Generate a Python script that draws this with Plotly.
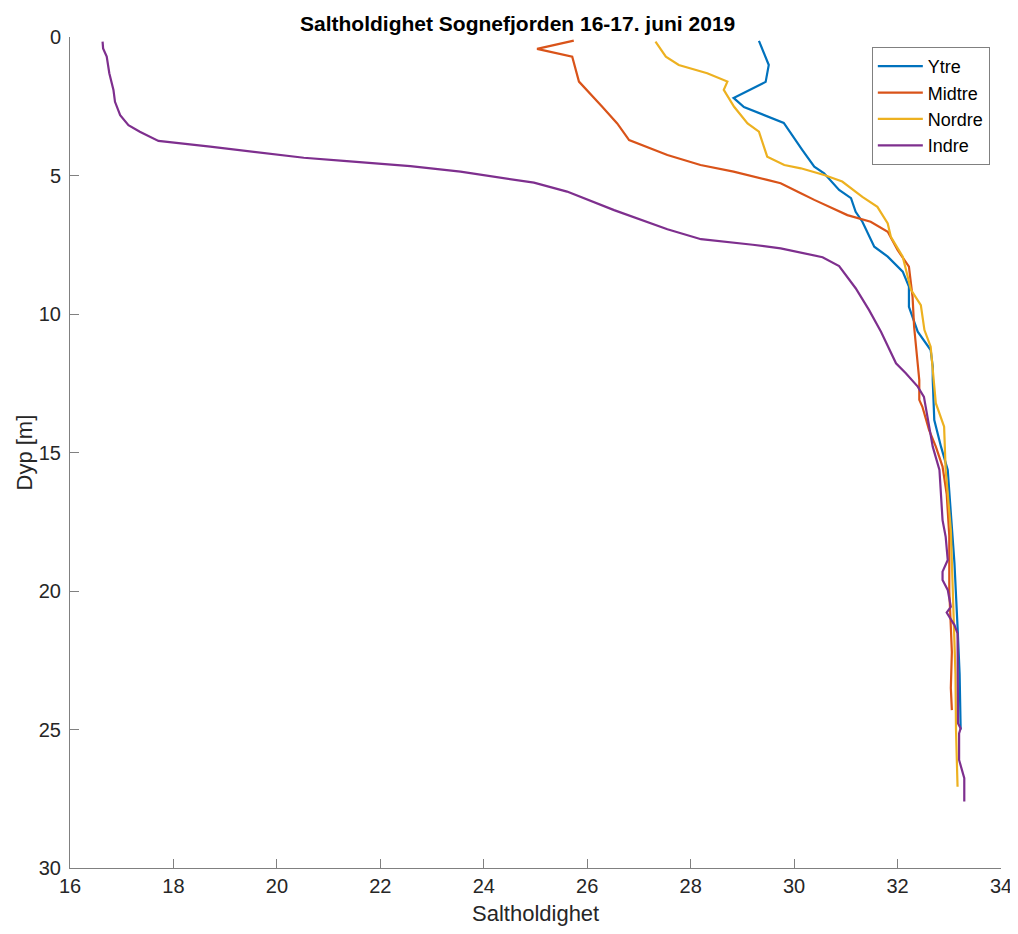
import plotly.graph_objects as go

# ---- data ----
ytre_sal = [29.32, 29.51, 29.45, 28.83, 29.03, 29.80, 30.16, 30.39, 30.58, 30.87, 31.10, 31.19,
            31.32, 31.55, 31.81, 32.10, 32.22, 32.22, 32.39, 32.64, 32.68, 32.68, 32.71, 32.84,
            32.97, 33.03, 33.10, 33.16, 33.20, 33.22]
ytre_dyp = [0.14, 1.01, 1.62, 2.20, 2.53, 3.10, 4.08, 4.68, 4.92, 5.52, 5.82, 6.31,
            6.67, 7.57, 7.93, 8.47, 9.01, 9.74, 10.64, 11.30, 11.90, 12.38, 13.83, 14.79,
            15.63, 17.18, 18.99, 21.29, 23.00, 25.00]

midtre_sal = [25.74, 25.03, 25.71, 25.84, 26.29, 26.58, 26.81, 27.55, 28.19, 28.83, 29.48, 29.74,
              30.13, 30.39, 31.03, 31.48, 31.81, 32.00, 32.22, 32.29, 32.32, 32.39, 32.42, 32.42,
              32.48, 32.61, 32.74, 32.87, 32.95, 33.00, 33.00, 33.03, 33.05, 33.03, 33.05]
midtre_dyp = [0.13, 0.43, 0.71, 1.61, 2.52, 3.12, 3.72, 4.26, 4.62, 4.86, 5.16, 5.28,
              5.64, 5.88, 6.43, 6.67, 7.03, 7.69, 8.29, 9.38, 10.46, 11.66, 12.38, 13.10,
              13.35, 14.19, 14.79, 15.51, 16.50, 18.00, 20.00, 21.30, 22.20, 23.50, 24.30]

nordre_sal = [27.32, 27.52, 27.77, 28.32, 28.71, 28.64, 28.84, 29.10, 29.32, 29.48, 29.81, 30.13,
              30.58, 30.93, 31.32, 31.61, 31.81, 31.87, 32.10, 32.26, 32.45, 32.52, 32.64, 32.71,
              32.74, 32.90, 32.93, 33.03, 33.10, 33.12, 33.13, 33.16]
nordre_dyp = [0.17, 0.71, 1.01, 1.31, 1.61, 1.91, 2.52, 3.12, 3.42, 4.32, 4.62, 4.74,
              4.98, 5.22, 5.77, 6.13, 6.73, 7.21, 7.93, 9.13, 9.68, 10.58, 11.18, 12.50,
              13.22, 14.07, 15.63, 17.80, 21.40, 23.00, 25.00, 27.07]

indre_sal = [16.63, 16.64, 16.71, 16.76, 16.84, 16.87, 16.97, 17.13, 17.35, 17.71, 18.71, 19.68,
             20.52, 21.29, 22.58, 23.55, 24.52, 24.97, 25.61, 26.52, 27.55, 28.20, 29.20, 29.74,
             30.55, 30.87, 31.19, 31.45, 31.68, 31.97, 32.16, 32.39, 32.51, 32.68, 32.81, 32.87,
             32.93, 32.97, 32.87, 32.87, 32.97, 33.03, 32.95, 33.10, 33.16, 33.17, 33.22, 33.19,
             33.19, 33.26, 33.29, 33.29]
indre_dyp = [0.17, 0.41, 0.71, 1.31, 1.91, 2.34, 2.82, 3.18, 3.42, 3.75, 3.96, 4.18,
             4.36, 4.47, 4.66, 4.86, 5.14, 5.26, 5.58, 6.25, 6.94, 7.30, 7.50, 7.63,
             7.95, 8.27, 9.07, 9.86, 10.64, 11.78, 12.14, 12.62, 12.99, 14.79, 15.63, 17.44,
             18.04, 18.88, 19.30, 19.60, 19.96, 20.57, 20.78, 21.23, 21.53, 24.78, 24.96, 25.14,
             26.10, 26.52, 26.76, 27.60]

series_names = ["Ytre", "Midtre", "Nordre", "Indre"]
series_colors = ["#0072BD", "#D95319", "#EDB120", "#7E2F8E"]
x_ticks = [16, 18, 20, 22, 24, 26, 28, 30, 32, 34]
y_ticks = [0, 5, 10, 15, 20, 25, 30]

title_text = "Saltholdighet Sognefjorden 16-17. juni 2019"
x_label = "Saltholdighet"
y_label = "Dyp [m]"

FONT = "Liberation Sans, Arial, Helvetica, sans-serif"
AX = "#808080"
TXT = "#262626"

fig = go.Figure()
for name, color, s, d in zip(series_names, series_colors,
                             [ytre_sal, midtre_sal, nordre_sal, indre_sal],
                             [ytre_dyp, midtre_dyp, nordre_dyp, indre_dyp]):
    fig.add_trace(go.Scatter(x=s, y=d, mode="lines", name=name,
                             line=dict(color=color, width=2.2)))

# page has an 8px body margin; margins compensate so the plot area is at x 70..1001, y 37..868
fig.update_layout(
    width=1018, height=934,
    paper_bgcolor="white", plot_bgcolor="white",
    margin=dict(l=62, r=25, t=29, b=74),
    font=dict(family=FONT, color=TXT, size=20),
    showlegend=True,
    legend=dict(x=0.988, y=0.988, xanchor="right", yanchor="top",
                bordercolor=AX, borderwidth=1, bgcolor="white",
                font=dict(family=FONT, size=18, color="black"),
                tracegroupgap=0, itemwidth=45),
    xaxis=dict(range=[16, 34], tickvals=x_ticks, ticktext=[str(v) for v in x_ticks],
               showgrid=False, zeroline=False, showline=True, linecolor=AX, linewidth=1,
               ticks="inside", ticklen=9, tickcolor=AX, tickwidth=1,
               tickfont=dict(size=20, color=TXT), mirror=False),
    yaxis=dict(range=[30, 0], tickvals=y_ticks, ticktext=[str(v) for v in y_ticks],
               showgrid=False, zeroline=False, showline=True, linecolor=AX, linewidth=1,
               ticks="inside", ticklen=9, tickcolor=AX, tickwidth=1,
               tickfont=dict(size=20, color=TXT), mirror=False, ticklabelstandoff=4),
    annotations=[
        dict(text="<b>" + title_text + "</b>", xref="paper", yref="paper",
             x=0.481, y=(868 - 23) / 831, xanchor="center", yanchor="middle",
             showarrow=False, borderpad=0,
             font=dict(size=21, color="black", family=FONT)),
        dict(text=x_label, xref="paper", yref="paper", x=0.5, y=-(913 - 868) / 831,
             xanchor="center", yanchor="middle", showarrow=False,
             font=dict(size=22, color=TXT, family=FONT)),
        dict(text=y_label, xref="paper", yref="paper", x=-(70 - 24) / 931, y=0.5,
             xanchor="center", yanchor="middle", showarrow=False, textangle=-90,
             font=dict(size=22, color=TXT, family=FONT)),
    ],
)

fig.write_html("out.html")
